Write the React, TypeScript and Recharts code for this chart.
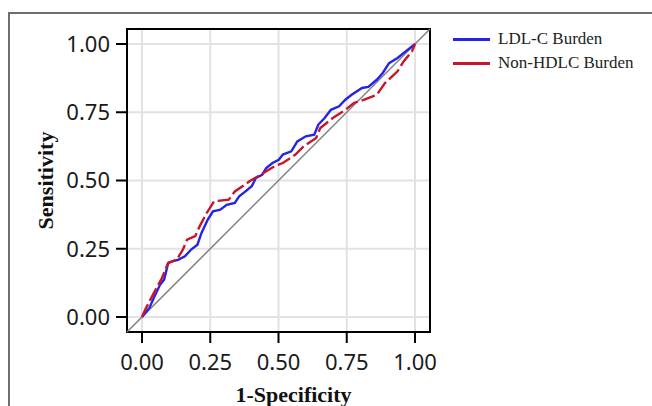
import { CartesianGrid, Legend, Line, LineChart, ReferenceArea, ReferenceLine, XAxis, YAxis } from "recharts";

// ROC points (1-specificity, sensitivity)
const ldlFpr = [0, 0.012, 0.027, 0.046, 0.066, 0.081, 0.096, 0.111, 0.134, 0.157, 0.18, 0.203, 0.218, 0.241, 0.26, 0.287, 0.31, 0.34, 0.356, 0.379, 0.402, 0.417, 0.44, 0.455, 0.478, 0.501, 0.516, 0.547, 0.569, 0.6, 0.631, 0.646, 0.669, 0.692, 0.722, 0.745, 0.768, 0.806, 0.829, 0.86, 0.882, 0.905, 0.936, 0.966, 0.989, 1];
const ldlTpr = [0, 0.015, 0.033, 0.076, 0.118, 0.137, 0.198, 0.204, 0.21, 0.222, 0.247, 0.265, 0.308, 0.357, 0.387, 0.393, 0.411, 0.418, 0.442, 0.46, 0.479, 0.509, 0.521, 0.546, 0.564, 0.576, 0.595, 0.607, 0.643, 0.662, 0.668, 0.705, 0.729, 0.759, 0.772, 0.796, 0.814, 0.839, 0.843, 0.869, 0.894, 0.93, 0.949, 0.973, 0.991, 1];

const nonHdlFpr = [0, 0.012, 0.027, 0.05, 0.073, 0.096, 0.127, 0.15, 0.165, 0.195, 0.211, 0.237, 0.264, 0.318, 0.34, 0.394, 0.424, 0.455, 0.485, 0.516, 0.562, 0.592, 0.638, 0.653, 0.699, 0.745, 0.776, 0.814, 0.86, 0.89, 0.936, 0.959, 0.989, 1];
const nonHdlTpr = [0, 0.027, 0.057, 0.1, 0.143, 0.198, 0.21, 0.247, 0.283, 0.296, 0.332, 0.381, 0.424, 0.43, 0.46, 0.497, 0.515, 0.534, 0.552, 0.564, 0.595, 0.625, 0.656, 0.692, 0.729, 0.759, 0.784, 0.796, 0.814, 0.857, 0.9, 0.937, 0.973, 1];

const ticks = [0, 0.25, 0.5, 0.75, 1];
const seriesNames = ["LDL-C Burden", "Non-HDLC Burden"];
const seriesColors = ["#2424e6", "#c8142c"];

const lo = -0.055;
const hi = 1.055;

const ldlRows = ldlFpr.map((x, i) => ({ fpr: x, tpr: ldlTpr[i] }));
const nonHdlRows = nonHdlFpr.map((x, i) => ({ fpr: x, tpr: nonHdlTpr[i] }));

const tickStyle = { fill: "#1a1a1a", fontSize: 22, fontFamily: "'Noto Sans', sans-serif" };
const titleStyle = { fill: "#111", fontSize: 22, fontWeight: 700, fontFamily: "'Liberation Serif', 'Times New Roman', serif" };

function RocLegend() {
  return (
    <div style={{ fontFamily: "'Liberation Serif', 'Times New Roman', serif", fontSize: 17, color: "#222" }}>
      {seriesNames.map((name, i) => (
        <div key={name} style={{ display: "flex", alignItems: "center", height: 24 }}>
          <span style={{ display: "inline-block", width: 37, height: 3, background: seriesColors[i], marginRight: 8 }} />
          <span>{name}</span>
        </div>
      ))}
    </div>
  );
}

export default function App() {
  return (
    <div style={{ position: "absolute", left: 0, top: 0, width: 652, height: 406, overflow: "hidden", background: "#fff" }}>
      <div
        style={{
          position: "absolute",
          left: 8,
          top: 12,
          width: 700,
          height: 500,
          borderLeft: "2px solid #6e6e6e",
          borderTop: "2px solid #6e6e6e",
        }}
      />
      <div style={{ position: "absolute", left: 0, top: 0 }}>
        <LineChart width={652} height={406} margin={{ top: 29, right: 222, left: 20, bottom: 0 }}>
          <CartesianGrid stroke="#e2e2e2" strokeWidth={2} />
          <XAxis
            type="number"
            dataKey="fpr"
            domain={[lo, hi]}
            ticks={ticks}
            allowDataOverflow
            height={74}
            axisLine={false}
            tickLine={{ stroke: "#000", strokeWidth: 2 }}
            tickSize={11}
            tickMargin={11}
            tick={tickStyle}
            tickFormatter={(v: number) => v.toFixed(2)}
            label={{ value: "1-Specificity", position: "insideBottom", offset: 4, dx: 15, style: titleStyle }}
          />
          <YAxis
            type="number"
            dataKey="tpr"
            domain={[lo, hi]}
            ticks={ticks}
            allowDataOverflow
            width={107}
            axisLine={false}
            tickLine={{ stroke: "#000", strokeWidth: 2 }}
            tickSize={11}
            tickMargin={6}
            tick={tickStyle}
            tickFormatter={(v: number) => v.toFixed(2)}
            label={{ value: "Sensitivity", angle: -90, position: "insideLeft", offset: 25, style: { ...titleStyle, textAnchor: "middle" } }}
          />
          <ReferenceLine
            segment={[
              { x: lo, y: lo },
              { x: hi, y: hi },
            ]}
            stroke="#808080"
            strokeWidth={1.5}
            ifOverflow="visible"
          />
          <Line
            data={ldlRows}
            dataKey="tpr"
            name={seriesNames[0]}
            stroke={seriesColors[0]}
            strokeWidth={2.4}
            dot={false}
            type="linear"
            isAnimationActive={false}
          />
          <Line
            data={nonHdlRows}
            dataKey="tpr"
            name={seriesNames[1]}
            stroke={seriesColors[1]}
            strokeWidth={2.4}
            strokeDasharray="14 4"
            dot={false}
            type="linear"
            isAnimationActive={false}
          />
          <ReferenceArea x1={lo} x2={hi} y1={lo} y2={hi} fill="none" stroke="#000" strokeWidth={2} ifOverflow="visible" />
          <Legend
            layout="vertical"
            align="center"
            verticalAlign="middle"
            wrapperStyle={{ left: 453, top: 27, width: 200 }}
            content={() => <RocLegend />}
          />
        </LineChart>
      </div>
    </div>
  );
}
